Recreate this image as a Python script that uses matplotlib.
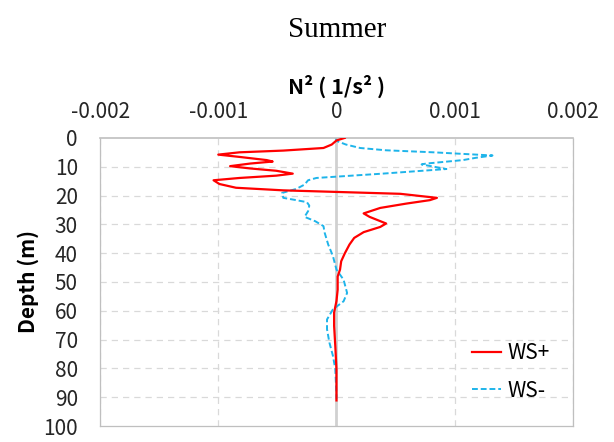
import matplotlib
matplotlib.use("Agg")
import matplotlib.pyplot as plt
from matplotlib.ticker import FixedLocator

# Brunt-Vaisala frequency squared profiles (1/s^2) versus depth (m)
depth_ws_plus = [0, 0.9, 2.3, 3.5, 4.4, 5.0, 5.8, 6.6, 7.7, 8.2, 8.9, 9.8, 10.6,
                 11.4, 12.4, 13.1, 13.9, 14.7, 16.0, 17.3, 18.2, 19.4, 20.8,
                 21.6, 22.8, 24.3, 26.2, 27.4, 29.7, 30.9, 32.7, 34.7, 37.0,
                 40.1, 42.8, 45.7, 48.1, 52.7, 56.6, 60.6, 65.2, 72.2, 80.2, 91.1]
n2_ws_plus = [0.00007, 0.0, -0.00004, -0.00011, -0.00045, -0.00082, -0.00100,
              -0.00082, -0.00059, -0.00054, -0.00073, -0.00090, -0.00073,
              -0.00051, -0.00037, -0.00051, -0.00082, -0.00104, -0.00099,
              -0.00085, -0.00045, 0.00054, 0.00085, 0.00079, 0.00059, 0.00037,
              0.00023, 0.00028, 0.00042, 0.00037, 0.00023, 0.00015, 0.00011,
              0.00007, 0.00004, 0.00003, 0.00001, 0.00001, 0.0, -0.00002,
              -0.00002, -0.00001, 0.0, 0.0]

depth_ws_minus = [0, 1.2, 2.3, 3.5, 4.3, 5.0, 6.1, 6.9, 7.7, 8.9, 9.2, 10.8, 12.4,
                  13.9, 14.7, 16.2, 17.7, 19.1, 20.8, 21.6, 22.3, 23.5, 25.4,
                  27.4, 28.9, 30.6, 32.9, 37.0, 41.0, 45.7, 49.2, 53.8, 56.7,
                  59.5, 63.0, 66.4, 71.0, 75.6, 80.2, 89.4, 90.5]
n2_ws_minus = [-0.00001, 0.00001, 0.00008, 0.00020, 0.00042, 0.00082, 0.00132,
               0.00118, 0.00107, 0.00076, 0.00072, 0.00093, 0.00039, -0.00017,
               -0.00024, -0.00027, -0.00034, -0.00046, -0.00045, -0.00034,
               -0.00025, -0.00023, -0.00024, -0.00027, -0.00018, -0.00011,
               -0.00010, -0.00007, -0.00003, 0.0, 0.00006, 0.00009, 0.00006,
               -0.00003, -0.00008, -0.00008, -0.00006, -0.00003, -0.00001, 0.0,
               0.0]

x_ticks = [-0.002, -0.001, 0, 0.001, 0.002]
x_tick_labels = ["-0.002", "-0.001", "0", "0.001", "0.002"]
y_ticks = list(range(0, 101, 10))

tick_font = ["Noto Sans CJK JP", "DejaVu Sans"]

fig = plt.figure(figsize=(6.14, 4.42), dpi=100)
ax = fig.add_axes([0.163, 0.036, 0.770, 0.652])

ax.set_xlim(-0.002, 0.002)
ax.set_ylim(100, 0)

# gridlines
for x in x_ticks:
    if x == 0:
        continue
    ax.axvline(x, color="#d9d9d9", lw=0.9, ls=(0, (5, 4)), zorder=0)
for y in y_ticks[1:-1]:
    ax.axhline(y, color="#d9d9d9", lw=0.9, ls=(0, (5, 4)), zorder=0)
ax.axvline(0, color="#d0d0d0", lw=2.0, zorder=1)

ax.plot(n2_ws_plus, depth_ws_plus, color="#ff0000", lw=1.6, label="WS+", zorder=3)
ax.plot(n2_ws_minus, depth_ws_minus, color="#1eb4ea", lw=1.4, ls=(0, (3, 1.5)),
        label="WS-", zorder=2)

ax.xaxis.set_ticks_position("top")
ax.xaxis.set_label_position("top")
ax.xaxis.set_major_locator(FixedLocator(x_ticks))
ax.set_xticklabels(x_tick_labels, family=tick_font, fontsize=15, color="#262626")
ax.yaxis.set_major_locator(FixedLocator(y_ticks))
ax.set_yticklabels([str(v) for v in y_ticks], family=tick_font, fontsize=15,
                   color="#262626")
ax.tick_params(axis="x", length=0, pad=11)
ax.tick_params(axis="y", length=0, pad=16)

for side in ["left", "right", "bottom"]:
    ax.spines[side].set_color("#bfbfbf")
    ax.spines[side].set_linestyle((0, (2, 1)))
    ax.spines[side].set_linewidth(0.9)
ax.spines["top"].set_color("#bfbfbf")
ax.spines["top"].set_linewidth(1.2)

ax.set_xlabel("N² ( 1/s² )", family=tick_font, fontsize=15.5,
              fontweight="bold", labelpad=5)
ax.set_ylabel("Depth (m)", family=tick_font, fontsize=15, fontweight="bold",
              labelpad=3)

fig.text(0.549, 0.933, "Summer", family="Liberation Serif", fontsize=21,
         ha="center", va="center")

leg = ax.legend(loc="lower right", bbox_to_anchor=(0.99, 0.02), frameon=False,
                prop={"family": tick_font, "size": 15}, handlelength=1.4,
                labelspacing=0.75, handletextpad=0.3)

fig.savefig("out.png", dpi=100)
